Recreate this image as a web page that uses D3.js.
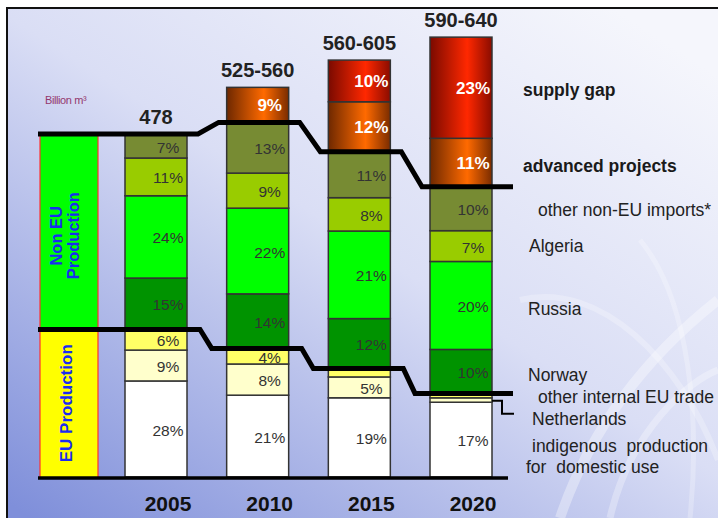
<!DOCTYPE html>
<html>
<head>
<meta charset="utf-8">
<script src="https://cdn.jsdelivr.net/npm/d3@7"></script>
<style>
  body { margin: 0; background: #fff; }
  svg { display: block; font-family: "Liberation Sans", Arial, sans-serif; }
  text { white-space: pre; }
</style>
</head>
<body>
<svg id="chart"></svg>
<script>
// ---- data (percent of each year's demand, bottom to top) ----
const years = ["2005", "2010", "2015", "2020"];
const totalLabels = ["478", "525-560", "560-605", "590-640"];
const totals = [478, 543, 581, 613]; // billion m3, bar heights

const indigenous = [28, 21, 19, 17];
const netherlands = [9, 8, 5, 1];
const otherEU = [6, 4, 2, 1];
const norway = [15, 14, 12, 10];
const russia = [24, 22, 21, 20];
const algeria = [11, 9, 8, 7];
const otherNonEU = [7, 13, 11, 10];
const advanced = [0, 9, 12, 11];
const supplyGap = [0, 0, 10, 23];

const keys = ["indigenous", "netherlands", "otherEU", "norway", "russia",
              "algeria", "otherNonEU", "advanced", "supplyGap"];
const seriesPct = { indigenous, netherlands, otherEU, norway, russia,
                    algeria, otherNonEU, advanced, supplyGap };
const seriesLabels = {
  supplyGap: "supply gap",
  advanced: "advanced projects",
  otherNonEU: "other non-EU imports*",
  algeria: "Algeria",
  russia: "Russia",
  norway: "Norway",
  otherEU: "other internal EU trade",
  netherlands: "Netherlands",
  indigenous: ["indigenous  production", "for  domestic use"]
};

// ---- setup ----
const width = 718, height = 518;
const svg = d3.select("#chart").attr("width", width).attr("height", height);
const defs = svg.append("defs");

const bg = defs.append("linearGradient").attr("id", "bg")
  .attr("x1", 0.9).attr("y1", 0.05).attr("x2", 0.05).attr("y2", 1);
bg.append("stop").attr("offset", 0).attr("stop-color", "#f5f6fc");
bg.append("stop").attr("offset", 0.45).attr("stop-color", "#dadef5");
bg.append("stop").attr("offset", 1).attr("stop-color", "#7f8fda");

function hGrad(id, dark1, bright, dark2) {
  const g = defs.append("linearGradient").attr("id", id)
    .attr("x1", 0).attr("y1", 0).attr("x2", 1).attr("y2", 0);
  g.append("stop").attr("offset", 0).attr("stop-color", dark1);
  g.append("stop").attr("offset", 0.6).attr("stop-color", bright);
  g.append("stop").attr("offset", 1).attr("stop-color", dark2);
}
hGrad("gradRed", "#7a0a00", "#ff2800", "#8a0c00");
hGrad("gradOrange", "#6e2800", "#ff6a00", "#7a2c00");

const colors = {
  indigenous: "#ffffff",
  netherlands: "#ffffcc",
  otherEU: "#ffff66",
  norway: "#009300",
  russia: "#00ff00",
  algeria: "#99cc00",
  otherNonEU: "#778b33",
  advanced: "url(#gradOrange)",
  supplyGap: "url(#gradRed)"
};

// background + frame
svg.append("rect").attr("x", 7).attr("y", 8).attr("width", width).attr("height", height)
  .attr("fill", "url(#bg)");
const swirl = svg.append("g").attr("fill", "none").attr("stroke", "#ffffff");
[
  ["M560,518 C600,400 680,330 718,300", 10, 0.35],
  ["M610,518 C630,430 690,380 718,370", 7, 0.3],
  ["M520,300 C600,280 680,360 718,460", 6, 0.25],
  ["M640,240 C690,300 700,420 690,518", 5, 0.25]
].forEach(([d, w, o]) => swirl.append("path").attr("d", d)
  .attr("stroke-width", w).attr("opacity", o));
svg.append("path").attr("d", "M7,518 V8 H718")
  .attr("fill", "none").attr("stroke", "#111").attr("stroke-width", 2);

// scales
const x = d3.scalePoint().domain(years).range([156, 461]);
const bw = 62;
const y = d3.scaleLinear().domain([0, totals[0]]).range([477, 134]);

const rows = years.map((yr, i) => {
  const r = { year: yr };
  keys.forEach(k => r[k] = seriesPct[k][i] * totals[i] / 100);
  return r;
});
const stack = d3.stack().keys(keys)(rows);

// ---- bars ----
const gBars = svg.append("g");
stack.forEach(layer => {
  layer.forEach((d, i) => {
    const pct = seriesPct[layer.key][i];
    if (pct === 0) return;
    gBars.append("rect")
      .attr("x", x(years[i]) - bw / 2)
      .attr("y", y(d[1]))
      .attr("width", bw)
      .attr("height", y(d[0]) - y(d[1]))
      .attr("fill", colors[layer.key])
      .attr("stroke", "#333")
      .attr("stroke-width", 1.5);
  });
});

// percent labels
stack.forEach(layer => {
  const hot = layer.key === "advanced" || layer.key === "supplyGap";
  layer.forEach((d, i) => {
    const pct = seriesPct[layer.key][i];
    if (pct < 4) return;
    gBars.append("text")
      .attr("x", x(years[i]) + 12)
      .attr("y", (y(d[0]) + y(d[1])) / 2 + (hot ? 0 : 1))
      .attr("dy", "0.36em")
      .attr("text-anchor", "middle")
      .attr("font-size", hot ? 17 : 15.5)
      .attr("font-weight", hot ? "bold" : "normal")
      .attr("fill", hot ? "#fff" : "#333")
      .text(pct + "%");
  });
});

// totals above bars
years.forEach((yr, i) => {
  svg.append("text")
    .attr("x", x(yr)).attr("y", y(totals[i]) - 10)
    .attr("text-anchor", "middle")
    .attr("font-size", 20).attr("font-weight", "bold").attr("fill", "#222")
    .text(totalLabels[i]);
});

// year labels
years.forEach(yr => {
  svg.append("text")
    .attr("x", x(yr) + 12).attr("y", 511)
    .attr("text-anchor", "middle")
    .attr("font-size", 21).attr("font-weight", "bold").attr("fill", "#111")
    .text(yr);
});

// ---- left boxes (2005 split) ----
const euTop = y(stack[2][0][1]);
const nonEuTop = y(stack[6][0][1]);
const boxX = 40, boxW = 58;
svg.append("rect").attr("x", boxX).attr("y", nonEuTop).attr("width", boxW)
  .attr("height", euTop - nonEuTop).attr("fill", "#00ff00");
svg.append("rect").attr("x", boxX).attr("y", euTop).attr("width", boxW)
  .attr("height", y(0) - euTop).attr("fill", "#ffff00");
[boxX, boxX + boxW].forEach(bx => svg.append("line")
  .attr("x1", bx).attr("x2", bx).attr("y1", nonEuTop).attr("y2", y(0))
  .attr("stroke", "#ff3030").attr("stroke-width", 1.2));

const nonEuMid = (nonEuTop + euTop) / 2 + 4;
const tNon = svg.append("text")
  .attr("transform", `translate(65,${nonEuMid}) rotate(-90)`)
  .attr("text-anchor", "middle").attr("font-size", 16.5)
  .attr("font-weight", "bold").attr("fill", "#1a2cf0");
tNon.append("tspan").attr("x", 0).attr("y", -3).text("Non EU");
tNon.append("tspan").attr("x", 0).attr("y", 14).text("Production");

svg.append("text")
  .attr("transform", `translate(72,${(euTop + y(0)) / 2}) rotate(-90)`)
  .attr("text-anchor", "middle").attr("font-size", 17)
  .attr("font-weight", "bold").attr("fill", "#1a2cf0")
  .text("EU Production");

svg.append("text").attr("x", 45).attr("y", 104)
  .attr("font-size", 11).attr("letter-spacing", -0.4).attr("fill", "#94386e")
  .text("Billion m³");

// ---- step lines ----
function stepLine(layerIdx, endPad, startPad) {
  const pts = [[38, y(stack[layerIdx][0][1])]];
  years.forEach((yr, i) => {
    const yy = y(stack[layerIdx][i][1]);
    if (i > 0) pts.push([x(yr) - bw / 2 - startPad, yy]);
    pts.push([i === years.length - 1 ? 513 : x(yr) + bw / 2 + endPad, yy]);
  });
  return pts;
}
const line = d3.line();
svg.append("path").attr("d", line(stepLine(6, 11, 8)))
  .attr("fill", "none").attr("stroke", "#000").attr("stroke-width", 5);
svg.append("path").attr("d", line(stepLine(2, 13, 15)))
  .attr("fill", "none").attr("stroke", "#000").attr("stroke-width", 5);

// baseline
svg.append("line").attr("x1", 38).attr("x2", 508).attr("y1", y(0) + 1).attr("y2", y(0) + 1)
  .attr("stroke", "#000").attr("stroke-width", 3.5);

// Netherlands pointer
const last = years.length - 1;
const nlY = y(stack[1][last][1]) + 3;
const rEdge = x(years[last]) + bw / 2;
svg.append("path")
  .attr("d", line([[rEdge, nlY], [rEdge + 10, nlY], [rEdge + 10, nlY + 13], [rEdge + 22, nlY + 13]]))
  .attr("fill", "none").attr("stroke", "#000").attr("stroke-width", 2);

// ---- right labels (aligned to 2020 segments) ----
const labelNudge = {
  supplyGap: [-5, 2], advanced: [-5, 3], otherNonEU: [10, 1], algeria: [1, 0],
  russia: [0, 3], norway: [0, 3], otherEU: [10, 3], netherlands: [4, 21],
  indigenous: [4, 16]
};
const bold = { supplyGap: true, advanced: true };
const labelX = rEdge + 36;
keys.forEach((k, idx) => {
  const d = stack[idx][last];
  const [dx, dy] = labelNudge[k];
  let cy = (y(d[0]) + y(d[1])) / 2 + dy;
  if (k === "netherlands") cy = y(d[1]) + dy;
  if (k === "otherEU") cy = y(d[1]) + dy;
  const t = svg.append("text")
    .attr("font-size", 17.5)
    .attr("font-weight", bold[k] ? "bold" : "normal")
    .attr("fill", bold[k] ? "#1a1a1a" : "#222");
  const lbl = seriesLabels[k];
  if (Array.isArray(lbl)) {
    t.append("tspan").attr("x", labelX + dx).attr("y", cy - 4).text(lbl[0]);
    t.append("tspan").attr("x", labelX + dx - 6).attr("y", cy + 17).text(lbl[1]);
  } else {
    t.attr("x", labelX + dx).attr("y", cy).attr("dy", "0.35em").text(lbl);
  }
});
</script>
</body>
</html>
